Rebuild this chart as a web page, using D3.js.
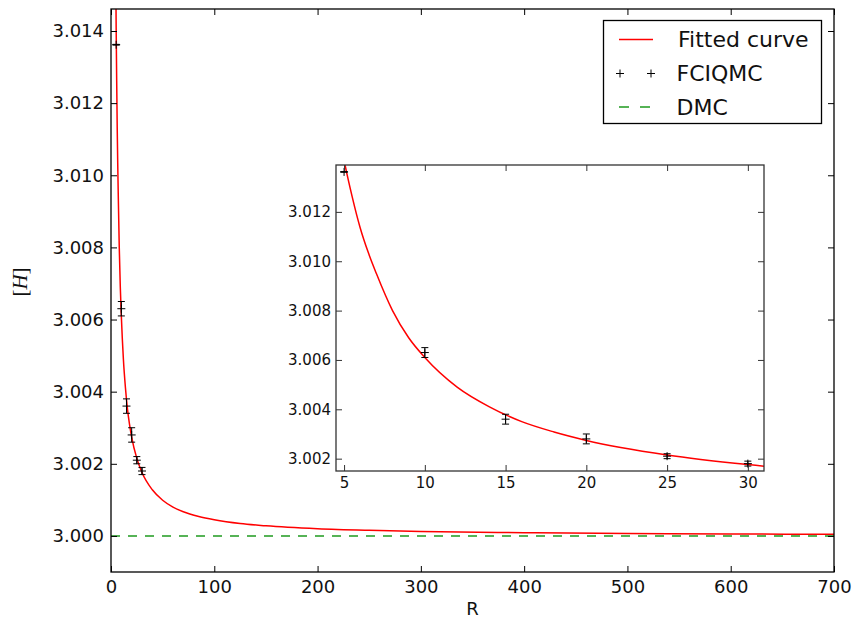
<!DOCTYPE html>
<html>
<head>
<meta charset="utf-8">
<script src="https://cdn.jsdelivr.net/npm/d3@7"></script>
<style>
  html, body { margin: 0; padding: 0; background: #fff; }
  svg { display: block; font-family: "DejaVu Sans", sans-serif; }
</style>
</head>
<body>
<svg id="chart" width="854" height="621"></svg>
<script>
// FCIQMC energies against R, with error bars
const pointR   = [5, 10, 15, 20, 25, 30];
const pointH   = [3.01362, 3.0063, 3.0036, 3.0028, 3.0021, 3.0018];
const pointErr = [0.00001, 0.0002, 0.0002, 0.0002, 0.0001, 0.0001];

// Fitted curve, sampled along R
const fitR = [4, 4.5, 5, 5.5, 6, 6.5, 7, 8, 9, 10, 12, 14, 16, 18, 20, 25, 30, 40, 50,
              60, 70, 85, 100, 125, 150, 200, 250, 300, 400, 500, 600, 700];
const fitH = [3.0184, 3.0160, 3.0141, 3.01262, 3.01135, 3.01035, 3.0095, 3.0080, 3.0069,
              3.0061, 3.0049, 3.0041, 3.0035, 3.00308, 3.00274, 3.00215, 3.00176, 3.00128,
              3.00099, 3.00080, 3.00067, 3.00054, 3.00045, 3.000345, 3.00028,
              3.00020, 3.000155, 3.000125, 3.00009, 3.000068, 3.000054, 3.000044];

// DMC reference energy
const dmcValue = 3.0;

// Tick values
const mainXTicks = [0, 100, 200, 300, 400, 500, 600, 700];
const mainYTicks = [3.000, 3.002, 3.004, 3.006, 3.008, 3.010, 3.012, 3.014];
const insetXTicks = [5, 10, 15, 20, 25, 30];
const insetYTicks = [3.002, 3.004, 3.006, 3.008, 3.010, 3.012];

const legendLabels = ["Fitted curve", "FCIQMC", "DMC"];

const fit = fitR.map((r, i) => ({ r, h: fitH[i] }));
const points = pointR.map((r, i) => ({ r, h: pointH[i], e: pointErr[i] }));

const svg = d3.select("#chart");
const RED = "#ff0000", GREEN = "#1f9a1f";

function drawPanel(g, id, box, xDomain, yDomain, xTicks, yTicks, opts) {
  const x = d3.scaleLinear().domain(xDomain).range([box.left, box.right]);
  const y = d3.scaleLinear().domain(yDomain).range([box.bottom, box.top]);
  const w = box.right - box.left, h = box.bottom - box.top;

  g.append("rect")
    .attr("x", box.left).attr("y", box.top).attr("width", w).attr("height", h)
    .attr("fill", "#fff");

  g.append("clipPath").attr("id", id)
    .append("rect").attr("x", box.left).attr("y", box.top).attr("width", w).attr("height", h);

  const plot = g.append("g").attr("clip-path", `url(#${id})`);

  if (opts.dmc) {
    plot.append("line")
      .attr("x1", box.left).attr("x2", box.right)
      .attr("y1", y(dmcValue)).attr("y2", y(dmcValue))
      .attr("stroke", GREEN).attr("stroke-width", 1.5)
      .attr("stroke-dasharray", "9,8");
  }

  plot.append("path")
    .datum(fit)
    .attr("fill", "none")
    .attr("stroke", RED)
    .attr("stroke-width", opts.curveWidth)
    .attr("d", d3.line().x(d => x(d.r)).y(d => y(d.h)).curve(d3.curveMonotoneX));

  // error bars with caps and "+" markers
  const pg = plot.append("g").attr("stroke", "#000").attr("stroke-width", 1);
  const cap = 3.5, mk = 4;
  points.forEach(p => {
    const cx = x(p.r), cy = y(p.h), y0 = y(p.h - p.e), y1 = y(p.h + p.e);
    pg.append("line").attr("x1", cx).attr("x2", cx).attr("y1", y0).attr("y2", y1);
    pg.append("line").attr("x1", cx - cap).attr("x2", cx + cap).attr("y1", y0).attr("y2", y0);
    pg.append("line").attr("x1", cx - cap).attr("x2", cx + cap).attr("y1", y1).attr("y2", y1);
    pg.append("line").attr("x1", cx - mk).attr("x2", cx + mk).attr("y1", cy).attr("y2", cy);
    pg.append("line").attr("x1", cx).attr("x2", cx).attr("y1", cy - mk).attr("y2", cy + mk);
  });

  // axes: ticks point inward on all four sides
  const tl = 6;
  const fmtY = d3.format(".3f");
  const ax = [
    g.append("g").attr("transform", `translate(0,${box.bottom})`)
      .call(d3.axisBottom(x).tickValues(xTicks).tickSize(-tl).tickPadding(opts.xPad).tickFormat(d3.format("d"))),
    g.append("g").attr("transform", `translate(0,${box.top})`)
      .call(d3.axisTop(x).tickValues(xTicks).tickSize(-tl).tickFormat("")),
    g.append("g").attr("transform", `translate(${box.left},0)`)
      .call(d3.axisLeft(y).tickValues(yTicks).tickSize(-tl).tickPadding(opts.yPad).tickFormat(fmtY)),
    g.append("g").attr("transform", `translate(${box.right},0)`)
      .call(d3.axisRight(y).tickValues(yTicks).tickSize(-tl).tickFormat(""))
  ];
  ax.forEach(a => {
    a.select(".domain").remove();
    a.selectAll(".tick line").attr("stroke", opts.spine).attr("stroke-width", 1);
    a.selectAll(".tick text")
      .attr("font-family", "DejaVu Sans, sans-serif")
      .attr("font-size", opts.fontSize)
      .attr("fill", "#111");
  });

  g.append("rect")
    .attr("x", box.left).attr("y", box.top).attr("width", w).attr("height", h)
    .attr("fill", "none").attr("stroke", opts.spine).attr("stroke-width", opts.spineWidth);

  return { x, y };
}

// main axes
const mainG = svg.append("g");
drawPanel(mainG, "clip-main",
  { left: 111, right: 834, top: 9, bottom: 572 },
  [0, 700], [2.999, 3.01461], mainXTicks, mainYTicks,
  { dmc: true, curveWidth: 1.5, xPad: 8, yPad: 7, fontSize: 18, spine: "#000", spineWidth: 1.3 });

// axis titles
svg.append("text")
  .attr("x", 472.5).attr("y", 615)
  .attr("text-anchor", "middle")
  .attr("font-size", 18).attr("fill", "#111")
  .text("R");

const ylab = svg.append("text")
  .attr("transform", "translate(27,282) rotate(-90)")
  .attr("text-anchor", "middle")
  .attr("font-family", "Liberation Serif, serif")
  .attr("font-size", 21).attr("fill", "#111");
ylab.append("tspan").text("[");
ylab.append("tspan").attr("font-style", "italic").text("H");
ylab.append("tspan").text("]");

// legend
const lg = svg.append("g");
lg.append("rect")
  .attr("x", 603.5).attr("y", 20.5).attr("width", 218).attr("height", 103)
  .attr("fill", "#fff").attr("stroke", "#000").attr("stroke-width", 1.3);
const rowY = [39.5, 73.5, 107];
lg.append("line")
  .attr("x1", 619).attr("x2", 653).attr("y1", rowY[0]).attr("y2", rowY[0])
  .attr("stroke", RED).attr("stroke-width", 1.5);
[620, 651].forEach(cx => {
  lg.append("line").attr("x1", cx - 4).attr("x2", cx + 4).attr("y1", rowY[1]).attr("y2", rowY[1]).attr("stroke", "#000");
  lg.append("line").attr("x1", cx).attr("x2", cx).attr("y1", rowY[1] - 4).attr("y2", rowY[1] + 4).attr("stroke", "#000");
});
lg.append("line")
  .attr("x1", 619).attr("x2", 653).attr("y1", rowY[2]).attr("y2", rowY[2])
  .attr("stroke", GREEN).attr("stroke-width", 1.5).attr("stroke-dasharray", "10,11");
legendLabels.forEach((t, i) => {
  lg.append("text")
    .attr("x", i === 0 ? 678 : 676.5).attr("y", rowY[i])
    .attr("dy", "0.36em")
    .attr("font-size", 22).attr("fill", "#111")
    .text(t);
});

// inset axes: zoom on the FCIQMC points
const insetG = svg.append("g");
drawPanel(insetG, "clip-inset",
  { left: 336, right: 764, top: 165, bottom: 471 },
  [4.5, 31], [3.0015, 3.0139], insetXTicks, insetYTicks,
  { dmc: false, curveWidth: 1.5, xPad: 6, yPad: 5, fontSize: 15, spine: "#333", spineWidth: 1.3 });
</script>
</body>
</html>
